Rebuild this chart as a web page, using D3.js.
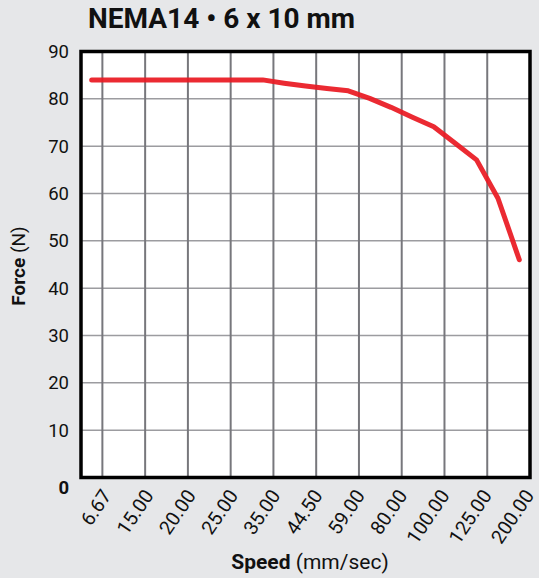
<!DOCTYPE html>
<html>
<head>
<meta charset="utf-8">
<script src="https://cdn.jsdelivr.net/npm/d3@7"></script>
<style>
  html, body { margin: 0; padding: 0; background: #e6e7e9; }
  svg { display: block; font-family: Roboto, "Noto Sans", sans-serif; }
</style>
</head>
<body>
<svg id="chart" width="539" height="578"></svg>
<script>
// Force vs. speed curve for a NEMA14 motor with a 6 x 10 mm lead screw
const speedLabels = ["6.67", "15.00", "20.00", "25.00", "35.00", "44.50", "59.00", "80.00", "100.00", "125.00", "200.00"];
const forceValues = [84, 84, 84, 84, 84, 84, 84, 84, 84, 83.3, 82.7, 82.2, 81.7, 80.1, 78.2, 76.1, 74.1, 70.6, 67.1, 59, 46];
const forceTicks = [0, 10, 20, 30, 40, 50, 60, 70, 80, 90];

const svg = d3.select("#chart");
const W = 539, H = 578;
const plot = { left: 81, right: 530, top: 51.5, bottom: 477.5 };

svg.append("rect").attr("width", W).attr("height", H).attr("fill", "#e6e7e9");

// sample index scale: labels sit halfway between samples, every second one
const x = d3.scaleLinear()
  .domain([-0.5, forceValues.length - 0.5])
  .range([plot.left, plot.right]);
const y = d3.scaleLinear().domain([0, 90]).range([plot.bottom, plot.top]);
const labelPos = speedLabels.map((d, i) => 0.5 + 2 * i);

// plot background
svg.append("rect")
  .attr("x", plot.left).attr("y", plot.top)
  .attr("width", plot.right - plot.left).attr("height", plot.bottom - plot.top)
  .attr("fill", "#ffffff");

// horizontal grid
svg.append("g")
  .selectAll("line")
  .data(forceTicks.filter(t => t > 0 && t < 90))
  .join("line")
  .attr("x1", plot.left).attr("x2", plot.right)
  .attr("y1", d => y(d)).attr("y2", d => y(d))
  .attr("stroke", "#9c9ca0").attr("stroke-width", 1.5);

// vertical grid
svg.append("g")
  .selectAll("line")
  .data(labelPos.filter(p => x(p) < plot.right - 2))
  .join("line")
  .attr("x1", d => x(d)).attr("x2", d => x(d))
  .attr("y1", plot.top).attr("y2", plot.bottom)
  .attr("stroke", "#77777c").attr("stroke-width", 2);

// force curve
const line = d3.line().x((d, i) => x(i)).y(d => y(d));
svg.append("path")
  .datum(forceValues)
  .attr("d", line)
  .attr("fill", "none")
  .attr("stroke", "#ea1a22")
  .attr("stroke-opacity", 0.93)
  .attr("stroke-width", 5)
  .attr("stroke-linecap", "round")
  .attr("stroke-linejoin", "round");

// frame
svg.append("rect")
  .attr("x", plot.left).attr("y", plot.top)
  .attr("width", plot.right - plot.left).attr("height", plot.bottom - plot.top)
  .attr("fill", "none").attr("stroke", "#000").attr("stroke-width", 3.5);

// y tick labels
svg.append("g")
  .selectAll("text")
  .data(forceTicks)
  .join("text")
  .attr("x", 69)
  .attr("y", d => d === 0 ? y(d) + 10 : y(d))
  .attr("dy", "0.35em")
  .attr("text-anchor", "end")
  .attr("font-size", 18.5)
  .attr("font-weight", d => d === 0 ? 700 : 400)
  .attr("fill", "#111")
  .text(d => d);

// x tick labels
svg.append("g")
  .selectAll("text")
  .data(speedLabels)
  .join("text")
  .attr("transform", (d, i) => `translate(${x(labelPos[i]) + 9.8 - i * 0.5},${plot.bottom + 18}) rotate(-56)`)
  .attr("text-anchor", "end")
  .attr("font-size", 19.5)
  .attr("fill", "#111")
  .text(d => d);

// axis titles
const xt = svg.append("text")
  .attr("x", 310).attr("y", 569)
  .attr("text-anchor", "middle")
  .attr("font-size", 21)
  .attr("fill", "#111");
xt.append("tspan").attr("font-weight", 700).text("Speed");
xt.append("tspan").text(" (mm/sec)");

const yt = svg.append("text")
  .attr("transform", "translate(25,266) rotate(-90)")
  .attr("text-anchor", "middle")
  .attr("font-size", 19)
  .attr("fill", "#111");
yt.append("tspan").attr("font-weight", 700).text("Force");
yt.append("tspan").text(" (N)");

// title
svg.append("text")
  .attr("x", 88).attr("y", 28)
  .attr("font-size", 28)
  .attr("font-weight", 700)
  .attr("fill", "#111")
  .text("NEMA14 • 6 x 10 mm");
</script>
</body>
</html>
